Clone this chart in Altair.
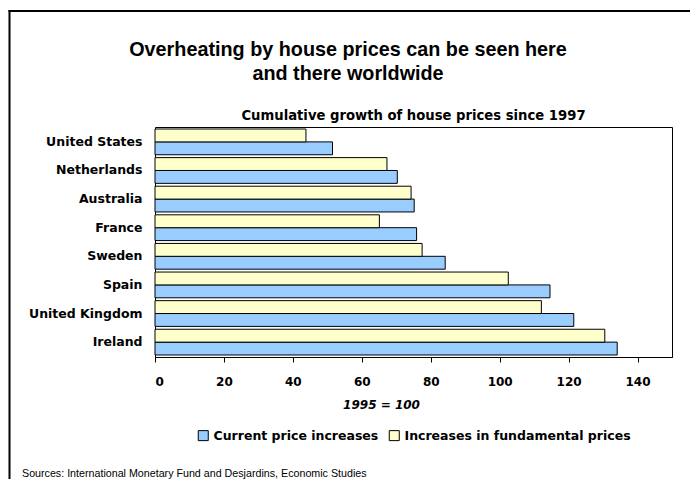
import altair as alt
import pandas as pd

countries = ["United States", "Netherlands", "Australia", "France",
             "Sweden", "Spain", "United Kingdom", "Ireland"]
current_increase = [51.5, 70.3, 75.2, 75.9, 84.2, 114.6, 121.5, 134.1]
fundamental_increase = [43.8, 67.3, 74.3, 65.1, 77.5, 102.5, 112.1, 130.5]
series_names = ["Current price increases", "Increases in fundamental prices"]
series_colors = ["#99CCFF", "#FFFFCC"]
x_ticks = [0, 20, 40, 60, 80, 100, 120, 140]

title_lines = ["Overheating by house prices can be seen here", "and there worldwide"]
subtitle_text = "Cumulative growth of house prices since 1997"
x_title = "1995 = 100"
source_text = "Sources: International Monetary Fund and Desjardins, Economic Studies"

rows = []
for c, cur, fun in zip(countries, current_increase, fundamental_increase):
    rows.append({"country": c, "series": series_names[0], "value": cur})
    rows.append({"country": c, "series": series_names[1], "value": fun})
df = pd.DataFrame(rows)

BOLD = "DejaVu Sans"
ARIAL = "Liberation Sans"

bars = alt.Chart(df).mark_bar(stroke="black", strokeWidth=1).encode(
    y=alt.Y("country:N", sort=countries,
            scale=alt.Scale(paddingInner=0.1, paddingOuter=0.07),
            axis=alt.Axis(title=None, ticks=False, domain=False,
                          labelFont=BOLD, labelFontWeight="bold", labelFontSize=12.5,
                          labelColor="black", labelPadding=13, labelLimit=0)),
    yOffset=alt.YOffset("series:N",
                        scale=alt.Scale(domain=[series_names[1], series_names[0]],
                                        paddingInner=0, paddingOuter=0)),
    x=alt.X("value:Q",
            scale=alt.Scale(domain=[0, 150], nice=False),
            axis=alt.Axis(title=x_title, values=x_ticks, grid=False,
                          tickSize=5, tickColor="black", domainColor="black",
                          labelFont=BOLD, labelFontWeight="bold", labelFontSize=12,
                          labelColor="black", labelBaseline="alphabetic", labelPadding=23,
                          titleFont=BOLD, titleFontWeight="bold", titleFontStyle="italic",
                          titleFontSize=12, titleColor="black",
                          titleX=226, titleY=51, titleAlign="center",
                          titleBaseline="alphabetic")),
    color=alt.Color("series:N",
                    scale=alt.Scale(domain=series_names, range=series_colors),
                    legend=alt.Legend(title=None, orient="none", direction="horizontal",
                                      legendX=42, legendY=302, padding=0,
                                      symbolType="square", symbolSize=100,
                                      symbolStrokeColor="black", symbolStrokeWidth=1,
                                      symbolOpacity=1,
                                      labelFont=BOLD, labelFontWeight="bold",
                                      labelFontSize=12.5, labelColor="black",
                                      labelLimit=0,
                                      labelOffset=4, columnPadding=8)),
)

one = alt.Data(values=[{"k": 1}])

main_title = alt.Chart(one).mark_text(
    font=ARIAL, fontWeight="bold", fontSize=19.8, color="black",
    align="center", baseline="alphabetic", lineHeight=24
).encode(x=alt.value(193), y=alt.value(-71), text=alt.value(title_lines))

sub_title = alt.Chart(one).mark_text(
    font=BOLD, fontWeight="bold", fontSize=13.2, color="black",
    align="center", baseline="alphabetic"
).encode(x=alt.value(258.5), y=alt.value(-7), text=alt.value(subtitle_text))

sources = alt.Chart(one).mark_text(
    font=ARIAL, fontSize=10.7, color="black",
    align="left", baseline="alphabetic"
).encode(x=alt.value(-133), y=alt.value(350), text=alt.value(source_text))

frame_top = alt.Chart(one).mark_rule(color="black", strokeWidth=2).encode(
    x=alt.value(-146.5), x2=alt.value(545), y=alt.value(-116))
frame_left = alt.Chart(one).mark_rule(color="black", strokeWidth=2).encode(
    x=alt.value(-145.5), y=alt.value(-117), y2=alt.value(360))

chart = alt.layer(bars, main_title, sub_title, sources, frame_top, frame_left).properties(
    width=517, height=230,
    autosize=alt.AutoSizeParams(type="none"),
    padding={"left": 147, "top": 119, "right": 18, "bottom": 122},
    background="white",
).configure_view(stroke="black", strokeWidth=1)

chart.save("out.html", embed_options={"renderer": "svg", "actions": False})
